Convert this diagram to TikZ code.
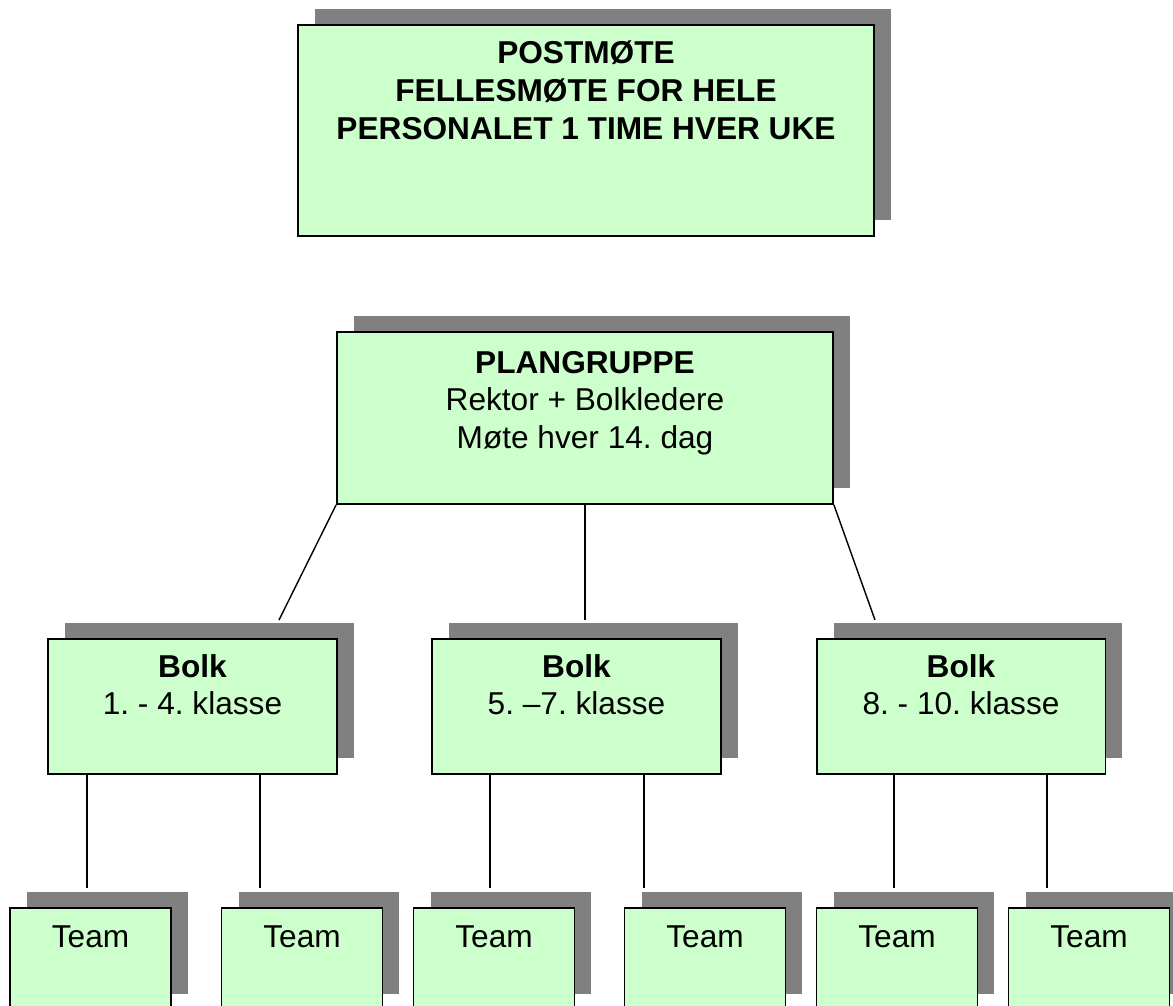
\documentclass[tikz,border=0pt]{standalone}
\usepackage{fontspec}
\setmainfont{Liberation Sans}
\usetikzlibrary{shadows}
\definecolor{boxgreen}{HTML}{CCFFCC}
\definecolor{shadowgray}{HTML}{808080}
\frenchspacing

\begin{document}
\begin{tikzpicture}[x=0.02cm, y=-0.02cm,
  orgbox/.style={draw=black, line width=1.1pt, fill=boxgreen, anchor=north, inner sep=0pt, align=center,
    font=\fontsize{18pt}{21.3pt}\selectfont,
    drop shadow={shadow xshift=0.34cm, shadow yshift=0.32cm, fill=shadowgray, opacity=1}},
  teambox/.style={orgbox, minimum width=3.22cm, text height=0.8cm, text depth=1.24cm},
  bolkbox/.style={orgbox, minimum width=5.78cm, text height=1.511cm, text depth=1.189cm},
  link/.style={draw=black, line width=0.8pt}]
\clip (0,0) rectangle (1173,1005);
\node[orgbox, font=\fontsize{18pt}{21.6pt}\selectfont\bfseries, minimum width=11.52cm, text height=2.284cm, text depth=1.936cm] (post) at (586,24) {POSTMØTE\\FELLESMØTE FOR HELE\\PERSONALET 1 TIME HVER UKE};
\node[orgbox, minimum width=9.92cm, text height=2.323cm, text depth=1.117cm] (plan) at (585,331) {\textbf{PLANGRUPPE}\\Rektor + Bolkledere\\Møte hver 14. dag};
\node[bolkbox] (b1) at (192.5,638) {\textbf{Bolk}\\1. - 4. klasse};
\node[bolkbox] (b2) at (576.5,638) {\textbf{Bolk}\\5. –7. klasse};
\node[bolkbox] (b3) at (961,638) {\textbf{Bolk}\\8. - 10. klasse};
\node[teambox] (t1) at (90.5,907) {Team};
\node[teambox] (t2) at (302,907) {Team};
\node[teambox] (t3) at (494,907) {Team};
\node[teambox] (t4) at (705,907) {Team};
\node[teambox] (t5) at (897,907) {Team};
\node[teambox] (t6) at (1089,907) {Team};
% connector ends above the shadows
\coordinate (b1top) at (279,620);
\coordinate (b2top) at (585,620);
\coordinate (b3top) at (875,620);
\coordinate (t1top) at (87,888);
\coordinate (t2top) at (260,888);
\coordinate (t3top) at (490,888);
\coordinate (t4top) at (644,888);
\coordinate (t5top) at (894,888);
\coordinate (t6top) at (1047,888);
\path [link] (plan.south west) -- (b1top);
\path [link] (plan.south) -- (b2top);
\path [link] (plan.south east) -- (b3top);
\path [link] (b1.south -| t1top) -- (t1top);
\path [link] (b1.south -| t2top) -- (t2top);
\path [link] (b2.south -| t3top) -- (t3top);
\path [link] (b2.south -| t4top) -- (t4top);
\path [link] (b3.south -| t5top) -- (t5top);
\path [link] (b3.south -| t6top) -- (t6top);
\end{tikzpicture}
\end{document}
